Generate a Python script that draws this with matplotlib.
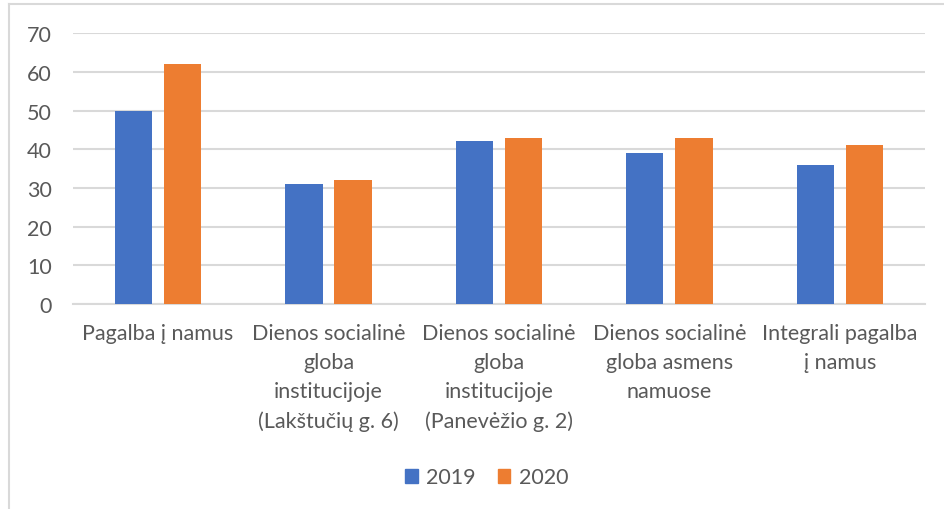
import numpy as np
import matplotlib
matplotlib.use("Agg")
import matplotlib.pyplot as plt
from matplotlib.lines import Line2D
from matplotlib.patches import Patch

categories = [
    "Pagalba į namus",
    "Dienos socialinė\ngloba\ninstitucijoje\n(Lakštučių g. 6)",
    "Dienos socialinė\ngloba\ninstitucijoje\n(Panevėžio g. 2)",
    "Dienos socialinė\ngloba asmens\nnamuose",
    "Integrali pagalba\nį namus",
]
series_names = ["2019", "2020"]
values_2019 = [50, 31, 42, 39, 36]
values_2020 = [62, 32, 43, 43, 41]
colors = ["#4472C4", "#ED7D31"]

plt.rcParams["font.family"] = ["Lato", "DejaVu Sans"]
text_color = "#595959"
fs = 15.5

fig = plt.figure(figsize=(9.45, 5.1), dpi=100)
ax = fig.add_axes([0.077, 0.402, 0.902, 0.531])

x = np.arange(len(categories))
w = 0.218
off = 0.144
ax.bar(x - off, values_2019, w, color=colors[0], zorder=3)
ax.bar(x + off, values_2020, w, color=colors[1], zorder=3)

ax.set_xlim(-0.5, len(categories) - 0.5)
ax.set_ylim(0, 70)
ax.set_yticks(range(0, 71, 10))
ax.yaxis.grid(True, color="#d9d9d9", linewidth=1.5, zorder=0)
for s in ["top", "right", "left"]:
    ax.spines[s].set_visible(False)
ax.spines["bottom"].set_color("#d9d9d9")
ax.spines["bottom"].set_linewidth(1.5)
ax.tick_params(axis="both", length=0, labelsize=fs, colors=text_color)
ax.tick_params(axis="y", pad=15)
ax.set_xticks(x)
ax.set_xticklabels(categories, linespacing=1.55, va="top")
ax.tick_params(axis="x", pad=14)

handles = [Patch(color=c) for c in colors]
fig.legend(handles, series_names, loc="center", bbox_to_anchor=(0.515, 0.062),
           ncol=2, frameon=False, fontsize=fs, labelcolor=text_color,
           handlelength=0.6, handleheight=0.6, columnspacing=1.0, handletextpad=0.4)

# chart border (left and top visible)
fig.add_artist(Line2D([0.009, 0.009], [0, 0.99], transform=fig.transFigure, color="#d9d9d9", lw=1.5))
fig.add_artist(Line2D([0.009, 1.0], [0.99, 0.99], transform=fig.transFigure, color="#d9d9d9", lw=1.5))

fig.savefig("out.png", dpi=100, facecolor="white")
